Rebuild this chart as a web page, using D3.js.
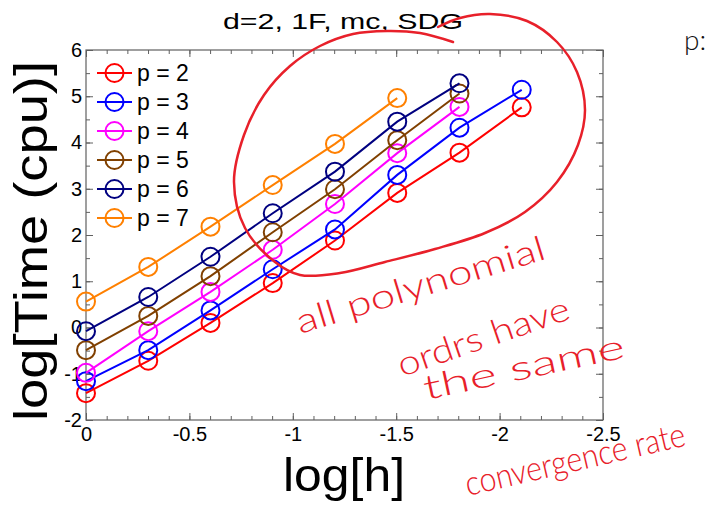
<!DOCTYPE html>
<html>
<head>
<meta charset="utf-8">
<script src="https://cdn.jsdelivr.net/npm/d3@7"></script>
<style>
  body { margin: 0; background: #fff; }
  text { font-family: "Liberation Sans", Arial, sans-serif; }
</style>
</head>
<body>
<svg width="707" height="508"></svg>
<script>
// log10 of mesh size h = 1, 1/2, 1/4, ...
var logH = [0, -0.301, -0.602, -0.903, -1.204, -1.505, -1.806, -2.107];

var orders = [2, 3, 4, 5, 6, 7];
var colors = ['#ff0000', '#0000ff', '#ff00ff', '#804000', '#000080', '#ff8000'];

// log10 of cpu time, one array per polynomial order
var timeP2 = [-1.42, -0.72, 0.10, 0.96, 1.88, 2.91, 3.78, 4.76];
var timeP3 = [-1.16, -0.49, 0.37, 1.26, 2.12, 3.30, 4.32, 5.14];
var timeP4 = [-0.98, -0.08, 0.77, 1.68, 2.67, 3.77, 4.77];
var timeP5 = [-0.49, 0.25, 1.11, 2.06, 2.99, 4.05, 5.06];
var timeP6 = [-0.08, 0.66, 1.53, 2.47, 3.37, 4.45, 5.28];
var timeP7 = [0.56, 1.31, 2.18, 3.08, 3.97, 4.96];
var times = [timeP2, timeP3, timeP4, timeP5, timeP6, timeP7];

var xTicks = [0, -0.5, -1, -1.5, -2, -2.5];
var yTicks = [-2, -1, 0, 1, 2, 3, 4, 5, 6];

var svg = d3.select('svg');
// note: "top" is reserved on window, so plot edges get their own names
var plotL = 86, plotR = 603, plotT = 50, plotB = 420;
var axisColor = '#606060';

var x = d3.scaleLinear().domain([0, -2.5]).range([plotL, plotR]);
var y = d3.scaleLinear().domain([-2, 6]).range([plotB, plotT]);

var plot = svg.append('g');

// minor ticks, all four sides
var xMinor = d3.range(0, -2.5001, -0.1);
var yMinor = d3.range(-2, 6.001, 0.5);
var minorAxes = [
  [d3.axisBottom(x), 'translate(0,' + plotB + ')', xMinor],
  [d3.axisTop(x), 'translate(0,' + plotT + ')', xMinor],
  [d3.axisLeft(y), 'translate(' + plotL + ',0)', yMinor],
  [d3.axisRight(y), 'translate(' + plotR + ',0)', yMinor]
];
minorAxes.forEach(function(a) {
  var g = plot.append('g').attr('transform', a[1])
    .call(a[0].tickValues(a[2]).tickSizeInner(-4).tickSizeOuter(0).tickFormat(''));
  g.select('.domain').remove();
  g.selectAll('line').attr('stroke', axisColor);
});

// major ticks
var fmt = function(d) { return d === 0 ? '0' : String(d); };
var majorAxes = [
  [d3.axisBottom(x).tickValues(xTicks).tickFormat(fmt).tickPadding(7), 'translate(0,' + plotB + ')'],
  [d3.axisTop(x).tickValues(xTicks).tickFormat(''), 'translate(0,' + plotT + ')'],
  [d3.axisLeft(y).tickValues(yTicks).tickFormat(fmt).tickPadding(4), 'translate(' + plotL + ',0)'],
  [d3.axisRight(y).tickValues(yTicks).tickFormat(''), 'translate(' + plotR + ',0)']
];
majorAxes.forEach(function(a) {
  var g = plot.append('g').attr('transform', a[1])
    .call(a[0].tickSizeInner(-7).tickSizeOuter(0));
  g.select('.domain').remove();
  g.selectAll('line').attr('stroke', axisColor);
  g.selectAll('text').attr('fill', '#000').style('font-size', '20px')
    .style('font-family', '"Liberation Sans", Arial, sans-serif');
});

plot.append('rect')
  .attr('x', plotL).attr('y', plotT)
  .attr('width', plotR - plotL).attr('height', plotB - plotT)
  .attr('fill', 'none').attr('stroke', axisColor).attr('stroke-width', 1.2);

// series
var line = d3.line()
  .x(function(d, i) { return x(logH[i]); })
  .y(function(d) { return y(d); });

times.forEach(function(vals, k) {
  var g = plot.append('g');
  g.append('path')
    .attr('d', line(vals))
    .attr('fill', 'none')
    .attr('stroke', colors[k])
    .attr('stroke-width', 2);
  g.selectAll('circle').data(vals).enter()
    .append('circle')
    .attr('cx', function(d, i) { return x(logH[i]); })
    .attr('cy', function(d) { return y(d); })
    .attr('r', 9)
    .attr('fill', 'none')
    .attr('stroke', colors[k])
    .attr('stroke-width', 2);
});

// legend
var legend = plot.append('g');
orders.forEach(function(p, k) {
  var ly = 73 + k * 29;
  legend.append('line')
    .attr('x1', 97).attr('x2', 132).attr('y1', ly).attr('y2', ly)
    .attr('stroke', colors[k]).attr('stroke-width', 2);
  legend.append('circle')
    .attr('cx', 114.5).attr('cy', ly).attr('r', 9)
    .attr('fill', 'none').attr('stroke', colors[k]).attr('stroke-width', 2);
  legend.append('text')
    .attr('x', 137).attr('y', ly + 8)
    .style('font-size', '23px')
    .text('p = ' + p);
});

// title and axis labels
svg.append('text')
  .attr('x', 223).attr('y', 29)
  .attr('textLength', 240).attr('lengthAdjust', 'spacingAndGlyphs')
  .style('font-size', '22px')
  .text('d=2, 1F, mc, SDG');

svg.append('text')
  .attr('x', 283).attr('y', 491)
  .attr('textLength', 122).attr('lengthAdjust', 'spacingAndGlyphs')
  .style('font-size', '47px')
  .text('log[h]');

svg.append('text')
  .attr('transform', 'translate(47,421) rotate(-90)')
  .attr('textLength', 360).attr('lengthAdjust', 'spacingAndGlyphs')
  .style('font-size', '47px')
  .text('log[Time (cpu)]');

// handwritten annotation overlay (pixel coordinates)
var loop = [[453, 42], [420, 33], [387, 31], [353, 34], [320, 46], [290, 66], [264, 95],
  [244, 135], [234, 182], [245, 228], [275, 262], [300, 275], [340, 273], [385, 262],
  [435, 249], [485, 233], [525, 212], [557, 182], [578, 145], [585, 110], [577, 72],
  [557, 42], [527, 21], [490, 14], [460, 18], [438, 27]];
svg.append('path')
  .attr('d', d3.line().curve(d3.curveCatmullRom)(loop))
  .attr('fill', 'none')
  .attr('stroke', '#e8202a')
  .attr('stroke-width', 2.5)
  .attr('stroke-linecap', 'round');

var notes = [
  ['all polynomial', 300, 334, -17, 259],
  ['ordrs have', 402, 377, -19, 180],
  ['the same', 426, 400, -12, 205],
  ['convergence rate', 468, 496, -13, 225]
];
notes.forEach(function(n) {
  svg.append('text')
    .attr('transform', 'translate(' + n[1] + ',' + n[2] + ') rotate(' + n[3] + ')')
    .attr('textLength', n[4]).attr('lengthAdjust', 'spacingAndGlyphs')
    .style('font-family', 'Lato, "Open Sans", sans-serif')
    .style('font-weight', '300')
    .style('font-size', '34px')
    .attr('fill', '#e8202a')
    .text(n[0]);
});

svg.append('text')
  .attr('x', 684).attr('y', 50)
  .style('font-family', 'Lato, sans-serif')
  .style('font-weight', '300')
  .style('font-size', '28px')
  .attr('fill', '#111')
  .text('p:');
</script>
</body>
</html>
